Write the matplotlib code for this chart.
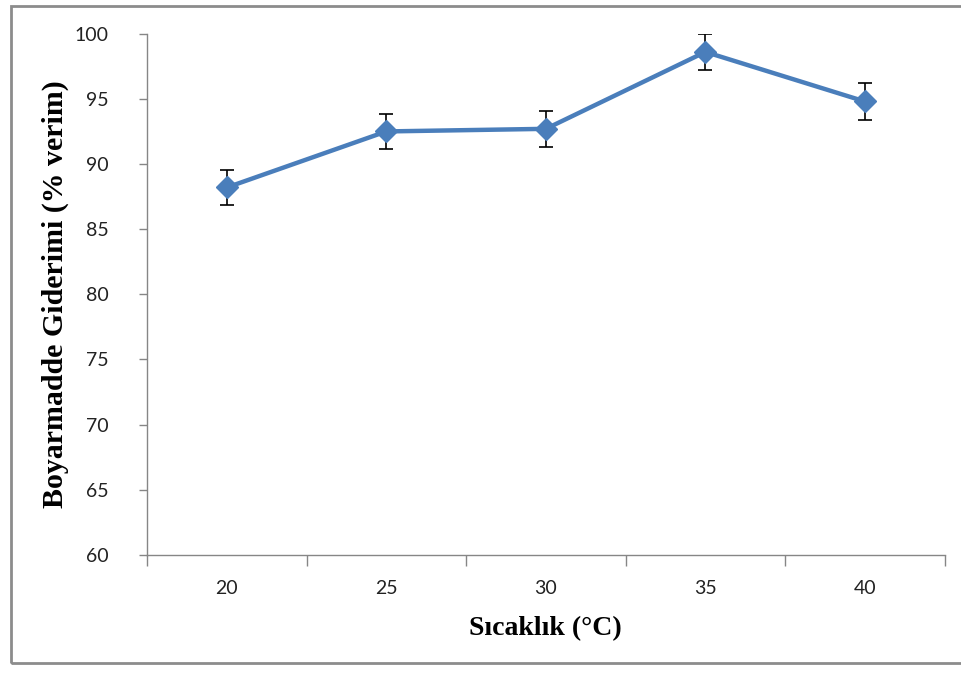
import matplotlib
matplotlib.use("Agg")
import matplotlib.pyplot as plt
from matplotlib.patches import Rectangle

# temperature series: dye removal (% yield) with error bars
temps = ["20", "25", "30", "35", "40"]
removal = [88.2, 92.5, 92.7, 98.6, 94.8]
removal_err = [1.35, 1.35, 1.4, 1.4, 1.4]

blue = "#4A7EBB"
axis_grey = "#868686"

fig = plt.figure(figsize=(9.61, 6.74), dpi=100)
ax = fig.add_axes([0.153, 0.1766, 0.830, 0.7734])

xpos = list(range(len(temps)))
ax.errorbar(xpos, removal, yerr=removal_err, color=blue, lw=3.2,
            marker="D", markersize=11.5, markerfacecolor=blue, markeredgecolor=blue,
            ecolor="black", elinewidth=1.2, capsize=5, capthick=1.2, zorder=3)

ax.set_xlim(-0.5, len(temps) - 0.5)
ax.set_ylim(60, 100)
ax.set_yticks(range(60, 101, 5))
ax.set_xticks(xpos)
ax.set_xticklabels(temps)
# category boundary ticks like a spreadsheet chart
ax.set_xticks([i - 0.5 for i in range(len(temps) + 1)], minor=True)
ax.tick_params(axis="x", which="major", length=0, pad=18)
ax.tick_params(axis="x", which="minor", length=8, color=axis_grey, width=1)
ax.tick_params(axis="y", length=6, color=axis_grey, width=1, pad=21.5)

for lbl in ax.get_xticklabels() + ax.get_yticklabels():
    lbl.set_fontfamily("Lato")
    lbl.set_fontsize(14)
    lbl.set_color("#222222")

for side in ["top", "right"]:
    ax.spines[side].set_visible(False)
for side in ["left", "bottom"]:
    ax.spines[side].set_color(axis_grey)
    ax.spines[side].set_linewidth(1)

ax.set_xlabel("Sıcaklık (°C)", fontfamily="Liberation Serif", fontweight="bold",
              fontsize=20, labelpad=14)
ax.set_ylabel("Boyarmadde Giderimi (% verim)", fontfamily="Liberation Serif",
              fontweight="bold", fontsize=21.5, labelpad=4)

# outer chart frame
fig.patches.append(Rectangle((11 / 961, 1 - 663 / 674), 1.0, (663 - 6) / 674,
                             transform=fig.transFigure, fill=False,
                             edgecolor="#8c8c8c", linewidth=2))

fig.savefig("out.png", dpi=100)
